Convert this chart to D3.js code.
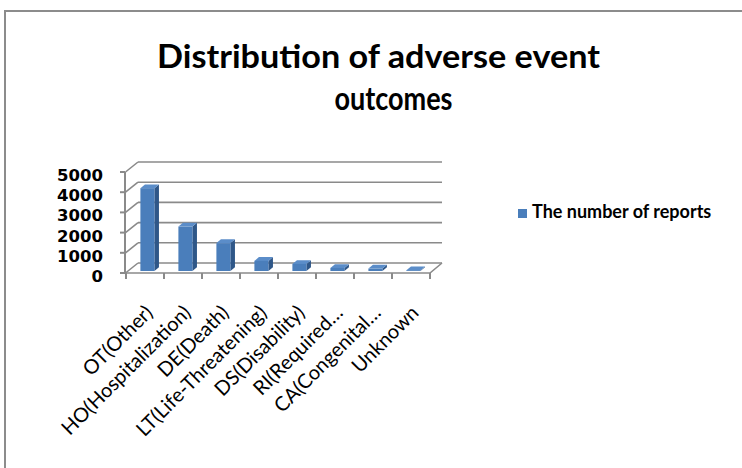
<!DOCTYPE html>
<html>
<head>
<meta charset="utf-8">
<script src="https://cdn.jsdelivr.net/npm/d3@7/dist/d3.min.js"></script>
<style>
  html, body { margin: 0; padding: 0; background: #fff; }
  svg { display: block; }
</style>
</head>
<body>
<svg id="chart" width="742" height="468"></svg>
<script>
// Adverse event outcomes and report counts
const categories = [
  "OT(Other)",
  "HO(Hospitalization)",
  "DE(Death)",
  "LT(Life-Threatening)",
  "DS(Disability)",
  "RI(Required…",
  "CA(Congenital…",
  "Unknown"
];
const reports = [4100, 2200, 1380, 500, 350, 150, 120, 40];
const yTicks = [0, 1000, 2000, 3000, 4000, 5000];
const seriesName = "The number of reports";
const titleLines = ["Distribution of adverse event", "outcomes"];

const svg = d3.select("#chart");

// outer chart frame
svg.append("rect")
  .attr("x", 5).attr("y", 11)
  .attr("width", 760).attr("height", 480)
  .attr("fill", "#fff")
  .attr("stroke", "#8c8c8c")
  .attr("stroke-width", 2);

// title
const titleSpec = [
  { cx: 378.5, y: 68, w: 443 },
  { cx: 393.5, y: 110, w: 118 }
];
svg.append("g").selectAll("text")
  .data(titleLines)
  .join("text")
  .attr("x", (d, i) => titleSpec[i].cx)
  .attr("y", (d, i) => titleSpec[i].y)
  .attr("text-anchor", "middle")
  .attr("textLength", (d, i) => titleSpec[i].w)
  .attr("lengthAdjust", "spacingAndGlyphs")
  .style("font-family", "Lato, sans-serif")
  .style("font-weight", "bold")
  .style("font-size", "33px")
  .attr("fill", "#000")
  .text(d => d);

// plot geometry (front plane plus a receding depth offset)
const x = d3.scaleBand().domain(categories).range([126, 430]).paddingInner(0).paddingOuter(0);
const y = d3.scaleLinear().domain([0, 5000]).range([273, 172]);
const depthX = 12, depthY = -10;
const gridColor = "#8a8a8a";

const g = svg.append("g");

// back wall gridlines and left wall diagonals
yTicks.forEach(t => {
  g.append("line")
    .attr("x1", x.range()[0] + depthX).attr("y1", y(t) + depthY)
    .attr("x2", x.range()[1] + depthX).attr("y2", y(t) + depthY)
    .attr("stroke", gridColor).attr("stroke-width", 1.6);
  g.append("line")
    .attr("x1", x.range()[0] - 0.5).attr("y1", y(t))
    .attr("x2", x.range()[0] + depthX).attr("y2", y(t) + depthY)
    .attr("stroke", gridColor).attr("stroke-width", 1.6);
});

// floor edges
g.append("path")
  .attr("d", `M${x.range()[0]},${y(0)} L${x.range()[1]},${y(0)} L${x.range()[1] + depthX},${y(0) + depthY}`)
  .attr("fill", "none").attr("stroke", gridColor).attr("stroke-width", 1.6);

// value axis line and ticks
g.append("line")
  .attr("x1", x.range()[0] - 1).attr("y1", y(5000))
  .attr("x2", x.range()[0] - 1).attr("y2", y(0) + 1)
  .attr("stroke", gridColor).attr("stroke-width", 2);
g.selectAll(".ytick").data(yTicks).join("line")
  .attr("class", "ytick")
  .attr("x1", x.range()[0] - 6).attr("x2", x.range()[0] - 1)
  .attr("y1", d => y(d)).attr("y2", d => y(d))
  .attr("stroke", gridColor).attr("stroke-width", 2);
g.selectAll(".ylab").data(yTicks).join("text")
  .attr("class", "ylab")
  .attr("x", 103)
  .attr("y", d => y(d) + 3)
  .attr("dy", "0.36em")
  .attr("text-anchor", "end")
  .style("font-family", "'DejaVu Sans', sans-serif")
  .style("font-weight", "bold")
  .style("font-size", "16.5px")
  .attr("fill", "#000")
  .text(d => d);

// category ticks at band boundaries
const bounds = categories.map(c => x(c)).concat([x.range()[1]]);
g.selectAll(".xtick").data(bounds).join("line")
  .attr("class", "xtick")
  .attr("x1", d => d).attr("x2", d => d)
  .attr("y1", y(0)).attr("y2", y(0) + 6)
  .attr("stroke", gridColor).attr("stroke-width", 2);

// 3D columns: front face, side face, top face
const f0 = 0.2, f1 = 0.58;
const barW = 14;
const frontFill = "#4a7ebb", sideFill = "#2f5788", topFill = "#5b8dc9";
const bars = g.append("g").selectAll("g").data(reports).join("g");
bars.each(function (v, i) {
  const cx = x(categories[i]) + x.bandwidth() / 2;
  const x0 = cx - barW / 2 + f0 * depthX;
  const x1 = x0 + barW;
  const yb = y(0) + f0 * depthY;
  const yt = yb - (y(0) - y(v));
  const ddx = (f1 - f0) * depthX, ddy = (f1 - f0) * depthY;
  const sel = d3.select(this);
  sel.append("path")
    .attr("d", `M${x1},${yb} L${x1 + ddx},${yb + ddy} L${x1 + ddx},${yt + ddy} L${x1},${yt} Z`)
    .attr("fill", sideFill);
  sel.append("path")
    .attr("d", `M${x0},${yt} L${x0 + ddx},${yt + ddy} L${x1 + ddx},${yt + ddy} L${x1},${yt} Z`)
    .attr("fill", topFill);
  sel.append("rect")
    .attr("x", x0).attr("y", yt)
    .attr("width", barW).attr("height", yb - yt)
    .attr("fill", frontFill);
});

// rotated category labels
g.selectAll(".xlab").data(categories).join("text")
  .attr("class", "xlab")
  .attr("transform", d => `translate(${x(d) + x.bandwidth() / 2 + 9},${y(0) + 41}) rotate(-45)`)
  .attr("text-anchor", "end")
  .style("font-family", "Lato, sans-serif")
  .style("font-size", "20px")
  .attr("fill", "#000")
  .text(d => d);

// legend
const legend = svg.append("g").attr("transform", "translate(518,209)");
legend.append("rect").attr("width", 9).attr("height", 9).attr("fill", frontFill);
legend.append("text")
  .attr("x", 14).attr("y", 9)
  .style("font-family", "Lato, sans-serif")
  .style("font-weight", "bold")
  .style("font-size", "18px")
  .attr("fill", "#000")
  .text(seriesName);
</script>
</body>
</html>
